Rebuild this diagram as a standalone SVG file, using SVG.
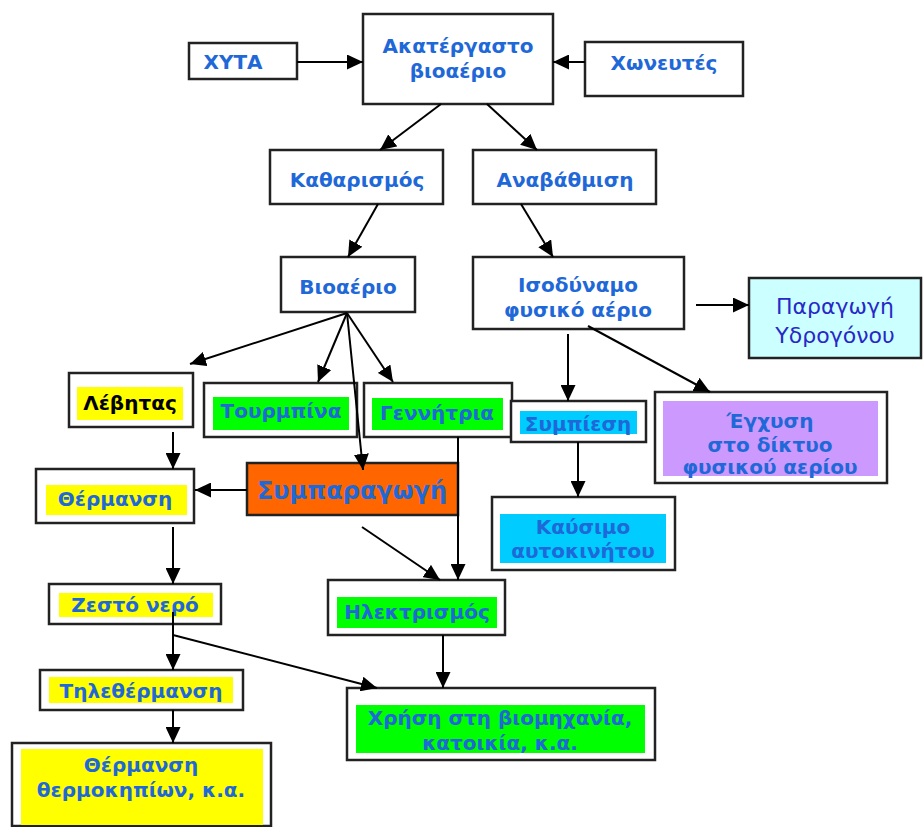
<svg xmlns="http://www.w3.org/2000/svg" width="923" height="827" viewBox="0 0 923 827">
<defs>
<marker id="ah" markerUnits="userSpaceOnUse" markerWidth="16" markerHeight="15" refX="16" refY="7.5" orient="auto">
<path d="M0,0 L16,7.5 L0,15 z" fill="#000"/>
</marker>
<style>
.box{fill:#fff;stroke:#222;stroke-width:2.5}
.t{font-family:"DejaVu Sans",Verdana,sans-serif;font-weight:bold;font-size:20px;fill:#1f68d8;text-anchor:middle;dominant-baseline:central}
.big{font-size:24px}
.norm{font-weight:normal;font-size:22px;fill:#2828c8}
.blk{fill:#000}
.y{fill:#ffff00}
.g{fill:#00ff00}
.c{fill:#00ccff}
.p{fill:#cc99ff}
.conn path{fill:none;stroke:#000;stroke-width:2;marker-end:url(#ah)}
</style>
</defs>
<rect width="923" height="827" fill="#fff"/>

<g id="xyta"><rect class="box" x="189" y="43" width="108" height="36"/><text class="t" x="233" y="62">ΧΥΤΑ</text></g>
<g id="akatergasto"><rect class="box" x="363" y="14" width="190" height="90"/><text class="t" x="458" y="46">Ακατέργαστο</text><text class="t" x="458" y="71">βιοαέριο</text></g>
<g id="xoneutes"><rect class="box" x="585" y="42" width="158" height="54"/><text class="t" x="664" y="63">Χωνευτές</text></g>

<g id="katharismos"><rect class="box" x="270" y="150" width="173" height="54"/><text class="t" x="357" y="180">Καθαρισμός</text></g>
<g id="anavathmisi"><rect class="box" x="473" y="150" width="183" height="54"/><text class="t" x="565" y="180">Αναβάθμιση</text></g>

<g id="bioaerio"><rect class="box" x="281" y="257" width="134" height="55"/><text class="t" x="348" y="287">Βιοαέριο</text></g>
<g id="isodynamo"><rect class="box" x="473" y="257" width="211" height="72"/><text class="t" x="578" y="285">Ισοδύναμο</text><text class="t" x="578" y="310">φυσικό αέριο</text></g>
<g id="ydrogono"><rect class="box" x="749" y="278" width="172" height="80" style="fill:#ccffff"/><text class="t norm" x="835" y="306">Παραγωγή</text><text class="t norm" x="835" y="335">Υδρογόνου</text></g>

<g id="levitas"><rect class="box" x="69" y="373" width="124" height="54"/><rect class="y" x="77" y="387" width="106" height="33"/><text class="t blk" x="130" y="403">Λέβητας</text></g>
<g id="tourmpina"><rect class="box" x="204" y="383" width="153" height="54"/><rect class="g" x="213" y="397" width="136" height="33"/><text class="t" x="281" y="411">Τουρμπίνα</text></g>
<g id="gennitria"><rect class="box" x="364" y="383" width="148" height="54"/><rect class="g" x="372" y="398" width="131" height="32"/><text class="t" x="437" y="413">Γεννήτρια</text></g>
<g id="sympiesi"><rect class="box" x="511" y="401" width="135" height="41"/><rect class="c" x="520" y="411" width="117" height="23"/><text class="t" x="578" y="424">Συμπίεση</text></g>
<g id="egxysi"><rect class="box" x="655" y="392" width="232" height="91"/><rect class="p" x="663" y="401" width="215" height="75"/><text class="t" x="770" y="421">Έγχυση</text><text class="t" x="770" y="445">στο δίκτυο</text><text class="t" x="770" y="467">φυσικού αερίου</text></g>

<g id="thermansi"><rect class="box" x="36" y="469" width="158" height="54"/><rect class="y" x="46" y="485" width="141" height="30"/><text class="t" x="115" y="499">Θέρμανση</text></g>
<g id="sympáragogi"><rect x="247" y="463" width="211" height="52" fill="#ff6600" stroke="#222" stroke-width="2.5"/><text class="t big" x="352" y="491">Συμπαραγωγή</text></g>
<g id="kausimo"><rect class="box" x="492" y="497" width="183" height="73"/><rect class="c" x="500" y="514" width="166" height="49"/><text class="t" x="583" y="527">Καύσιμο</text><text class="t" x="583" y="551">αυτοκινήτου</text></g>

<g id="zesto"><rect class="box" x="49" y="584" width="172" height="40"/><rect class="y" x="59" y="593" width="154" height="24"/><text class="t" x="135" y="605">Ζεστό νερό</text></g>
<g id="ilektrismos"><rect class="box" x="328" y="580" width="177" height="55"/><rect class="g" x="337" y="597" width="160" height="31"/><text class="t" x="417" y="612">Ηλεκτρισμός</text></g>

<g id="tilethermansi"><rect class="box" x="40" y="670" width="203" height="40"/><rect class="y" x="49" y="677" width="184" height="26"/><text class="t" x="141" y="691">Τηλεθέρμανση</text></g>
<g id="xrisi"><rect class="box" x="347" y="688" width="308" height="72"/><rect class="g" x="356" y="705" width="289" height="48"/><text class="t" x="500" y="718">Χρήση στη βιομηχανία,</text><text class="t" x="500" y="743">κατοικία, κ.α.</text></g>
<g id="thermokipia"><rect class="box" x="12" y="743" width="259" height="83"/><rect class="y" x="21" y="749" width="242" height="76"/><text class="t" x="141" y="765">Θέρμανση</text><text class="t" x="141" y="790">θερμοκηπίων, κ.α.</text></g>

<g class="conn" id="connectors">
<path d="M297,62 L363,62"/>
<path d="M585,62 L553,62"/>
<path d="M441,104 L380,150"/>
<path d="M487,104 L537,150"/>
<path d="M378,204 L348,257"/>
<path d="M521,204 L553,257"/>
<path d="M347,313 L190,364"/>
<path d="M347,313 L318,382"/>
<path d="M347,313 L363,470"/>
<path d="M347,313 L393,382"/>
<path d="M696,305 L749,305"/>
<path d="M568,334 L568,401"/>
<path d="M588,326 L710,392"/>
<path d="M578,442 L578,497"/>
<path d="M173,432 L173,469"/>
<path d="M247,490 L195,490"/>
<path d="M458,437 L458,580"/>
<path d="M362,527 L440,580"/>
<path d="M173,527 L173,584"/>
<path d="M173,612 L173,670"/>
<path d="M173,635 L377,688"/>
<path d="M173,710 L173,743"/>
<path d="M443,635 L443,688"/>
</g>
</svg>
